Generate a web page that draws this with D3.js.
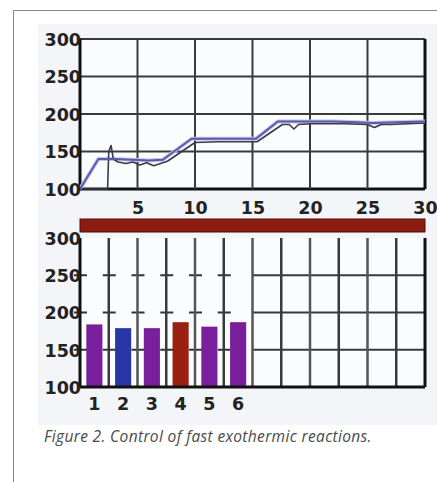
<!DOCTYPE html>
<html><head><meta charset="utf-8">
<script src="https://cdn.jsdelivr.net/npm/d3@7"></script>
<style>
html,body{margin:0;padding:0;background:#fff;}
svg{display:block;}
.lbl{font-family:"DejaVu Sans",Verdana,sans-serif;font-weight:bold;font-size:17.5px;fill:#222;}
.cap{font-family:"Open Sans",sans-serif;font-style:italic;font-size:15.5px;letter-spacing:0.35px;fill:#4a4a4a;}
</style>
</head><body>
<script>
// ---- data ----
const yTicks = [100, 150, 200, 250, 300];
const xTicks = [5, 10, 15, 20, 25, 30];
const setpointTime  = [0, 1.6, 3, 4.5, 6, 7.2, 9.7, 12, 15.3, 17.2, 20, 22, 24, 25.5, 27.5, 30];
const setpointValue = [100, 140, 140, 139, 138, 139, 167, 167, 167, 190, 190, 190, 189, 188, 189, 190];
const measuredTime  = [0, 0, 2.4, 2.5, 2.7, 2.9, 3.3, 4, 4.6, 5.2, 5.8, 6.4, 7, 7.6, 10, 12, 15.4, 17.6, 18.2, 18.6, 19, 20, 23, 25, 25.6, 26.2, 27, 28.5, 30];
const measuredValue = [103, 100, 100, 150, 158, 140, 136, 134, 136, 132, 135, 131, 134, 137, 162, 163, 163, 186, 186, 180, 186, 187, 187, 186, 182, 186, 186, 187, 188];
const barLabels = ["1", "2", "3", "4", "5", "6"];
const barValues = [184, 179, 179, 187, 181, 187];
const barColors = ["#7a1f9c", "#2b36a6", "#7a1f9c", "#9a2014", "#7a1f9c", "#7a1f9c"];
const columnCount = 12;
const caption = "Figure 2. Control of fast exothermic reactions.";

const W = 437, H = 482;
const svg = d3.select("body").append("svg").attr("width", W).attr("height", H);

// frame
svg.append("path").attr("d", `M13.5,${H} V10.5 H${W}`).attr("fill","none").attr("stroke","#888").attr("stroke-width",1);
// image background
svg.append("rect").attr("x",38).attr("y",24).attr("width",W-38).attr("height",401).attr("fill","#f3f5f8");

// ---- top chart ----
const xT = d3.scaleLinear().domain([0,30]).range([80,425]);
const yT = d3.scaleLinear().domain([100,300]).range([189,39]);
const gT = svg.append("g");
gT.append("rect").attr("x",xT(0)).attr("y",yT(300)).attr("width",xT(30)-xT(0)).attr("height",yT(100)-yT(300)).attr("fill","#fbfcfe");
// grid
gT.selectAll(".hg").data(yTicks).join("line")
  .attr("x1",xT(0)).attr("x2",xT(30)).attr("y1",d=>yT(d)).attr("y2",d=>yT(d))
  .attr("stroke",d=>d===100?"#111":"#3a3a3a").attr("stroke-width",d=>d===100?3:2);
gT.selectAll(".vg").data([0].concat(xTicks)).join("line")
  .attr("x1",d=>xT(d)).attr("x2",d=>xT(d)).attr("y1",yT(300)).attr("y2",yT(100))
  .attr("stroke",d=>(d===0||d===30)?"#111":"#3a3a3a").attr("stroke-width",d=>(d===0||d===30)?3:2);
// lines
const lineM = d3.line().x(d=>xT(d[0])).y(d=>yT(d[1]));
const measured = measuredTime.map((t,i)=>[t, measuredValue[i]]);
const setpoint = setpointTime.map((t,i)=>[t, setpointValue[i]]);
gT.append("path").attr("d",lineM(setpoint)).attr("fill","none").attr("stroke","#c2c5e8").attr("stroke-width",4).attr("stroke-linejoin","round");
gT.append("path").attr("d",lineM(measured)).attr("fill","none").attr("stroke","#3a3a48").attr("stroke-width",1.6).attr("stroke-linejoin","round");
gT.append("path").attr("d",lineM(setpoint)).attr("fill","none").attr("stroke","#5a5aaa").attr("stroke-width",2).attr("stroke-linejoin","round");
// axes labels
const axL = gT.append("g").attr("transform",`translate(${xT(0)+1},0)`)
  .call(d3.axisLeft(yT).tickValues(yTicks).tickSize(0).tickPadding(0).tickFormat(d3.format("d")));
axL.select(".domain").remove();
axL.selectAll("text").attr("class","lbl").attr("dy","0.36em").attr("font-size",null).attr("font-family",null);
const axB = gT.append("g").attr("transform",`translate(0,${yT(100)})`)
  .call(d3.axisBottom(xT).tickValues(xTicks).tickSize(0).tickPadding(0).tickFormat(d3.format("d")));
axB.select(".domain").remove();
axB.selectAll("text").attr("class","lbl").attr("dy","1.4em").attr("font-size",null).attr("font-family",null);

// red band
svg.append("rect").attr("x",xT(0)).attr("y",219).attr("width",xT(30)-xT(0)).attr("height",13)
  .attr("fill","#8c1c12").attr("stroke","#4e0e08").attr("stroke-width",1);

// ---- bottom chart ----
const yB = d3.scaleLinear().domain([100,300]).range([387,238]);
const xCol = d3.scaleLinear().domain([0,columnCount]).range([80,425]);
const xB = d3.scaleBand().domain(barLabels).range([xCol(0), xCol(6)]).paddingInner(0.44).paddingOuter(0.22);
const gB = svg.append("g");
gB.append("rect").attr("x",xCol(0)).attr("y",yB(300)).attr("width",xCol(12)-xCol(0)).attr("height",yB(100)-yB(300)).attr("fill","#fbfcfe");
const cols = d3.range(0, columnCount+1);
const hLines = [150,200,250];
hLines.forEach(v=>{
  gB.append("line").attr("x1",xCol(6)).attr("x2",xCol(12)).attr("y1",yB(v)).attr("y2",yB(v)).attr("stroke","#3a3a3a").attr("stroke-width",2);
  gB.selectAll(null).data(d3.range(0,6)).join("line")
    .attr("x1",d=>xCol(d)-6).attr("x2",d=>xCol(d)+7).attr("y1",yB(v)).attr("y2",yB(v))
    .attr("stroke","#333").attr("stroke-width",2);
});
gB.selectAll(".vc").data(cols).join("line")
  .attr("x1",d=>xCol(d)).attr("x2",d=>xCol(d)).attr("y1",yB(300)).attr("y2",yB(100))
  .attr("stroke",d=>(d===0||d===12)?"#111":(d%2? "#3a3a3a":"#555"))
  .attr("stroke-width",d=>(d===0||d===12)?3:2.5);
// bars
gB.selectAll(".bar").data(barValues).join("rect")
  .attr("x",(d,i)=>xB(barLabels[i])).attr("width",xB.bandwidth())
  .attr("y",d=>yB(d)).attr("height",d=>yB(100)-yB(d))
  .attr("fill",(d,i)=>barColors[i]);
gB.append("line").attr("x1",xCol(0)).attr("x2",xCol(12)).attr("y1",yB(100)).attr("y2",yB(100)).attr("stroke","#111").attr("stroke-width",3);
const axL2 = gB.append("g").attr("transform",`translate(${xCol(0)+1},0)`)
  .call(d3.axisLeft(yB).tickValues(yTicks).tickSize(0).tickPadding(0).tickFormat(d3.format("d")));
axL2.select(".domain").remove();
axL2.selectAll("text").attr("class","lbl").attr("dy","0.36em").attr("font-size",null).attr("font-family",null);
const axB2 = gB.append("g").attr("transform",`translate(0,${yB(100)})`)
  .call(d3.axisBottom(xB).tickSize(0).tickPadding(0));
axB2.select(".domain").remove();
axB2.selectAll("text").attr("class","lbl").attr("dy","1.3em").attr("font-size",null).attr("font-family",null);

// caption
svg.append("text").attr("class","cap").attr("x",44).attr("y",442).text(caption);
</script>
</body></html>
